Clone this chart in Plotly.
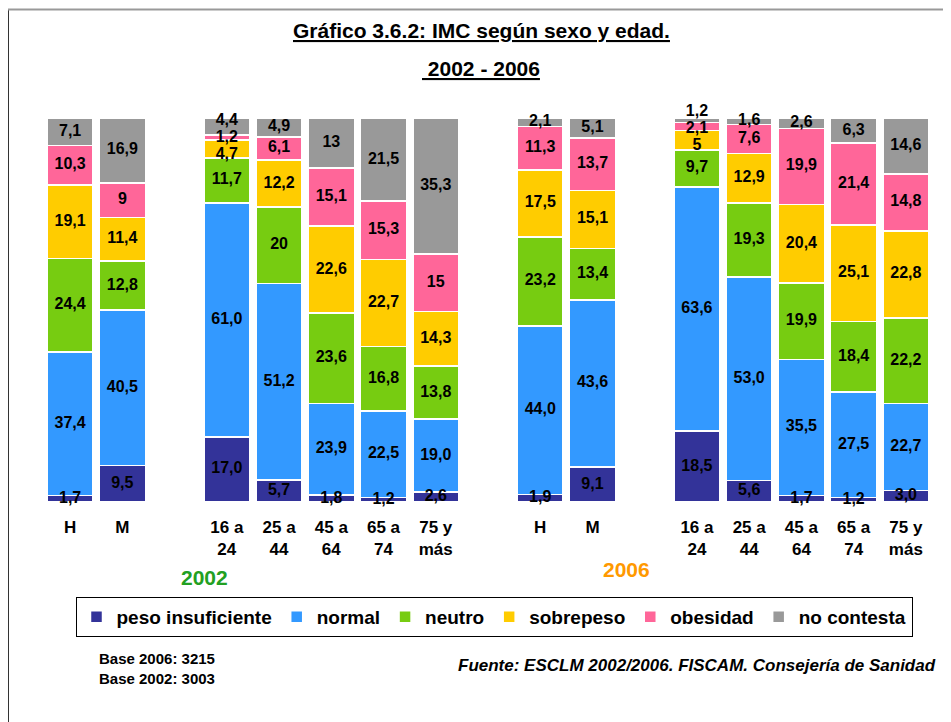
import plotly.graph_objects as go

# Category positions (slots) and tick labels
slots = [0, 1, 3, 4, 5, 6, 7, 9, 10, 12, 13, 14, 15, 16]
tick_labels = ["H", "M", "16 a<br>24", "25 a<br>44", "45 a<br>64", "65 a<br>74", "75 y<br>más",
               "H", "M", "16 a<br>24", "25 a<br>44", "45 a<br>64", "65 a<br>74", "75 y<br>más"]

series_names = ["peso insuficiente", "normal", "neutro", "sobrepeso", "obesidad", "no contesta"]

# values as printed in the chart (2002: H, M, 5 age groups; 2006: H, M, 5 age groups)
peso_insuficiente = ["1,7", "9,5", "17,0", "5,7", "1,8", "1,2", "2,6",
                     "1,9", "9,1", "18,5", "5,6", "1,7", "1,2", "3,0"]
normal = ["37,4", "40,5", "61,0", "51,2", "23,9", "22,5", "19,0",
          "44,0", "43,6", "63,6", "53,0", "35,5", "27,5", "22,7"]
neutro = ["24,4", "12,8", "11,7", "20", "23,6", "16,8", "13,8",
          "23,2", "13,4", "9,7", "19,3", "19,9", "18,4", "22,2"]
sobrepeso = ["19,1", "11,4", "4,7", "12,2", "22,6", "22,7", "14,3",
             "17,5", "15,1", "5", "12,9", "20,4", "25,1", "22,8"]
obesidad = ["10,3", "9", "1,2", "6,1", "15,1", "15,3", "15",
            "11,3", "13,7", "2,1", "7,6", "19,9", "21,4", "14,8"]
no_contesta = ["7,1", "16,9", "4,4", "4,9", "13", "21,5", "35,3",
               "2,1", "5,1", "1,2", "1,6", "2,6", "6,3", "14,6"]

colors = ["#333399", "#3399FF", "#77CC11", "#FFCC00", "#FF6699", "#999999"]

series = [peso_insuficiente, normal, neutro, sobrepeso, obesidad, no_contesta]
numeric = [[float(v.replace(",", ".")) for v in s] for s in series]

Y_MAX = 104.0
PX_PER_UNIT = 3.84
PLOT_H = PX_PER_UNIT * Y_MAX
TOP = 502 - PLOT_H  # pixel row of the top of the plot area

LABEL_FONT = dict(family="Liberation Sans, Arial", size=16, color="black", weight="bold")
MIN_SEP = 17 / PX_PER_UNIT  # minimal vertical distance between label centres

fig = go.Figure()
for name, vals, col in zip(series_names, numeric, colors):
    fig.add_trace(go.Bar(
        x=slots, y=vals, name=name,
        marker=dict(color=col, line=dict(color="white", width=1.5)),
        hoverinfo="skip",
    ))

# label positions: segment centres, spread apart when they would collide
lab_x, lab_y, lab_t = [], [], []
for i, xs in enumerate(slots):
    cum = 0.0
    centres, texts = [], []
    for s_txt, s_num in zip(series, numeric):
        centres.append(cum + s_num[i] / 2)
        texts.append(s_txt[i])
        cum += s_num[i]
    clusters = [[k] for k in range(len(centres))]

    def positions(cl):
        m = sum(centres[k] for k in cl) / len(cl)
        n = len(cl)
        return [m + (j - (n - 1) / 2) * MIN_SEP for j in range(n)]

    changed = True
    while changed:
        changed = False
        for c in range(len(clusters) - 1):
            top_a = positions(clusters[c])[-1]
            bot_b = positions(clusters[c + 1])[0]
            if bot_b - top_a < MIN_SEP - 1e-9:
                clusters[c] = clusters[c] + clusters[c + 1]
                del clusters[c + 1]
                changed = True
                break
    for cl in clusters:
        for k, p in zip(cl, positions(cl)):
            lab_x.append(xs)
            lab_y.append(p)
            lab_t.append(texts[k])

fig.add_trace(go.Scatter(
    x=lab_x, y=lab_y, text=lab_t, mode="text",
    textposition="middle center", textfont=LABEL_FONT,
    showlegend=False, hoverinfo="skip", cliponaxis=False,
))


def px_x(X):
    return (X - 44) / 888


def px_y(Y):
    return (502 - Y) / PLOT_H


fig.update_layout(
    barmode="stack",
    bargap=0.12,
    width=951, height=722,
    margin=dict(l=36, r=27, t=TOP - 8, b=722 - 502 + 8),
    paper_bgcolor="white",
    plot_bgcolor="white",
    showlegend=True,
    legend=dict(
        orientation="h",
        x=px_x(494), xanchor="center",
        y=px_y(597), yanchor="top",
        bordercolor="black", borderwidth=1,
        font=dict(family="Liberation Sans, Arial", size=19, color="black", weight="bold"),
        traceorder="normal",
        itemwidth=30,
    ),
    xaxis=dict(
        range=[-0.5, 16.5],
        tickmode="array", tickvals=slots, ticktext=tick_labels,
        showline=False, showgrid=False, zeroline=False, ticks="",
        ticklabelstandoff=13,
        tickfont=dict(family="Liberation Sans, Arial", size=17, color="black", weight="bold"),
    ),
    yaxis=dict(range=[0, Y_MAX], visible=False),
    font=dict(family="Liberation Sans, Arial", color="black"),
)

TITLE_FONT = dict(family="Liberation Sans, Arial", size=21, weight="bold", color="black")
fig.add_annotation(text="<u>Gráfico 3.6.2: IMC según sexo y edad.</u>", xref="paper", yref="paper",
                   x=px_x(481), y=px_y(30), xanchor="center", yanchor="middle", showarrow=False,
                   font=TITLE_FONT)
fig.add_annotation(text="<u> 2002 - 2006</u>", xref="paper", yref="paper",
                   x=px_x(481), y=px_y(68), xanchor="center", yanchor="middle", showarrow=False,
                   font=TITLE_FONT)
fig.add_annotation(text="2002", xref="paper", yref="paper",
                   x=px_x(204), y=px_y(578), xanchor="center", yanchor="middle", showarrow=False,
                   font=dict(family="Liberation Sans, Arial", size=21, color="#22A022", weight="bold"))
fig.add_annotation(text="2006", xref="paper", yref="paper",
                   x=px_x(626), y=px_y(570), xanchor="center", yanchor="middle", showarrow=False,
                   font=dict(family="Liberation Sans, Arial", size=21, color="#FF9900", weight="bold"))
fig.add_annotation(text="Base 2006: 3215<br>Base 2002: 3003", xref="paper", yref="paper",
                   x=px_x(97), y=px_y(669), xanchor="left", yanchor="middle",
                   align="left", showarrow=False,
                   font=dict(family="Liberation Sans, Arial", size=15, weight="bold", color="black"))
fig.add_annotation(text="<i>Fuente: ESCLM 2002/2006. FISCAM. Consejería de Sanidad</i>", xref="paper", yref="paper",
                   x=px_x(938), y=px_y(666), xanchor="right", yanchor="middle", showarrow=False,
                   font=dict(family="Liberation Sans, Arial", size=17, weight="bold", color="black"))

# frame lines
fig.add_shape(type="line", xref="paper", yref="paper",
              x0=px_x(8), x1=px_x(8), y0=px_y(9), y1=px_y(730),
              line=dict(color="#333333", width=2))
fig.add_shape(type="line", xref="paper", yref="paper",
              x0=px_x(8), x1=px_x(960), y0=px_y(9), y1=px_y(9),
              line=dict(color="#999999", width=2))

fig.write_html("out.html")
